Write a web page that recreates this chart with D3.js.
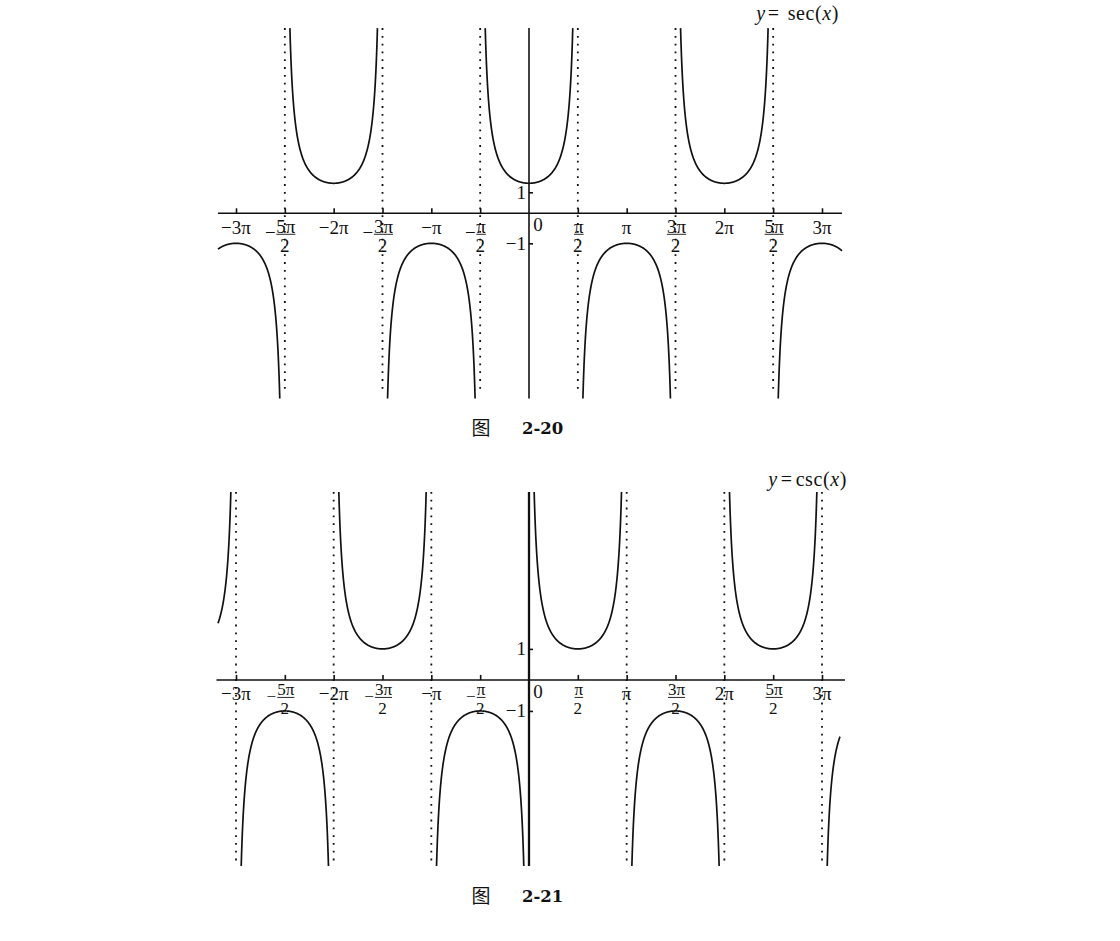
<!DOCTYPE html>
<html><head><meta charset="utf-8">
<script src="https://cdn.jsdelivr.net/npm/d3@7"></script>
<style>body{margin:0;background:#fff}svg{display:block}</style>
</head><body><svg id="c" width="1120" height="941"></svg>
<script>
const PI = Math.PI;
// x tick positions, in units of π/2
const xTickHalves = [-6,-5,-4,-3,-2,-1,1,2,3,4,5,6];
const xTickLabels = [
  {t:"−3π"}, {s:"−",n:"5π",d:"2"}, {t:"−2π"}, {s:"−",n:"3π",d:"2"}, {t:"−π"}, {s:"−",n:"π",d:"2"},
  {n:"π",d:"2"}, {t:"π"}, {n:"3π",d:"2"}, {t:"2π"}, {n:"5π",d:"2"}, {t:"3π"}];
// dotted asymptotes, in units of π/2
const secAsymptoteHalves = [-5,-3,-1,1,3,5];
const cscAsymptoteHalves = [-6,-4,-2,2,4,6];
// branch centres, in units of π
const secBranchCenters = [-3,-2,-1,0,1,2,3];
const cscBranchCenters = [-3.5,-2.5,-1.5,-0.5,0.5,1.5,2.5,3.5];
// y ticks (positions) and labels
const secYTicks = [0.7,-1];
const secYTickLabels = ["1","−1"];
const cscYTicks = [1,-1];
const cscYTickLabels = ["1","−1"];
const secTitle = ["y","=","sec(","x",")"];
const cscTitle = ["y","=","csc(","x",")"];
const captions = ["2-20","2-21"];

const svg = d3.select("#c");
const FONT = "'Liberation Serif','DejaVu Serif',serif";
const FS = 19;

const charts = [
  {fn: x=>1/Math.cos(x), centers: secBranchCenters, asym: secAsymptoteHalves, yTicks: secYTicks, yLabels: secYTickLabels,
   title: secTitle, titleGap: [2, 8], titleX: 839, titleY: 20, caption: captions[0], capY: 433.5,
   yDom: [-6.17, 6.17], yRange: [398.5, 28.1], axisPx: [218, 842], curvePx: [218, 842], dotEnd: -5.9,
   plainDy: 20.7, fracFs: 19, numDy: 19.7, barDy: 21, denDy: 39, zeroDy: 18, yAxisW: 1.6},
  {fn: x=>1/Math.sin(x), centers: cscBranchCenters, asym: cscAsymptoteHalves, yTicks: cscYTicks, yLabels: cscYTickLabels,
   title: cscTitle, titleGap: [3, 3], titleX: 847, titleY: 486, caption: captions[1], capY: 902,
   yDom: [-6.0, 6.06], yRange: [866, 492], axisPx: [216.5, 845], curvePx: [218, 840], dotEnd: -5.87,
   plainDy: 19.6, fracFs: 17, numDy: 14.8, barDy: 17.5, denDy: 33.8, zeroDy: 18, yAxisW: 2.3}
];

charts.forEach(c => {
  const x = d3.scaleLinear().domain([-3*PI, 3*PI]).range([236, 822]);
  const y = d3.scaleLinear().domain(c.yDom).range(c.yRange);
  const g = svg.append("g");
  const y0 = y(0), x0 = x(0);
  const yMax = c.yDom[1], yMin = c.yDom[0];

  // dotted asymptotes
  g.selectAll("line.asym").data(c.asym).join("line")
    .attr("x1", d => x(d*PI/2)).attr("x2", d => x(d*PI/2))
    .attr("y1", y(yMax)).attr("y2", y(c.dotEnd))
    .attr("stroke", "#111").attr("stroke-width", 1.8)
    .attr("stroke-dasharray", "1.8 6");

  // x axis line
  g.append("line").attr("x1", c.axisPx[0]).attr("x2", c.axisPx[1])
    .attr("y1", y0).attr("y2", y0).attr("stroke", "#111").attr("stroke-width", 1.6);
  // y axis line
  g.append("line").attr("x1", x0).attr("x2", x0)
    .attr("y1", y(yMax)).attr("y2", y(yMin)).attr("stroke", "#111").attr("stroke-width", c.yAxisW);

  // x ticks (upward)
  const xAxis = d3.axisTop(x).tickValues(xTickHalves.map(d => d*PI/2)).tickSize(5).tickFormat("");
  g.append("g").attr("transform", `translate(0,${y0})`).call(xAxis)
    .call(a => a.select(".domain").remove())
    .call(a => a.selectAll(".tick line").attr("stroke", "#111").attr("stroke-width", 1.6));

  // y ticks (rightward)
  const yAxis = d3.axisRight(y).tickValues(c.yTicks).tickSize(4).tickFormat("");
  g.append("g").attr("transform", `translate(${x0},0)`).call(yAxis)
    .call(a => a.select(".domain").remove())
    .call(a => a.selectAll(".tick line").attr("stroke", "#111").attr("stroke-width", 1.6));

  // x tick labels
  xTickHalves.forEach((h, i) => {
    const L = xTickLabels[i], px = x(h*PI/2);
    if (L.t) {
      g.append("text").attr("x", px).attr("y", y0 + c.plainDy).attr("text-anchor", "middle")
        .attr("font-family", FONT).attr("font-size", FS).attr("fill", "#111").text(L.t);
    } else {
      const txt = g.append("text").attr("font-family", FONT).attr("font-size", c.fracFs).attr("fill", "#111")
        .attr("text-anchor", "middle");
      const num = txt.append("tspan").attr("x", px + 1).attr("y", y0 + c.numDy).text(L.n);
      const w = num.node().getComputedTextLength();
      txt.append("tspan").attr("x", px).attr("y", y0 + c.denDy).text(L.d);
      if (L.s) {
        txt.append("tspan").attr("x", px + 1 - w/2 - 6).attr("y", y0 + c.barDy + 5).text(L.s);
      }
      g.append("line").attr("x1", px + 1 - w/2).attr("x2", px + 1 + w/2)
        .attr("y1", y0 + c.barDy).attr("y2", y0 + c.barDy).attr("stroke", "#111").attr("stroke-width", 0.9);
    }
  });
  // origin label
  g.append("text").attr("x", x0 + 9).attr("y", y0 + c.zeroDy).attr("text-anchor", "middle")
    .attr("font-family", FONT).attr("font-size", FS).attr("fill", "#111").text("0");
  // y tick labels
  c.yTicks.forEach((v, i) => {
    g.append("text").attr("x", x0 - 3).attr("y", y(v) + 6.3).attr("text-anchor", "end")
      .attr("font-family", FONT).attr("font-size", FS).attr("fill", "#111").text(c.yLabels[i]);
  });

  // curve branches
  const d0 = x.invert(c.curvePx[0]), d1 = x.invert(c.curvePx[1]);
  const line = d3.line().x(d => x(d[0])).y(d => y(d[1]));
  c.centers.forEach(k => {
    const cx = k*PI;
    const sign = Math.sign(c.fn(cx));
    const M = sign > 0 ? yMax : -yMin;
    const hw = Math.acos(1/M);
    const a = Math.max(cx - hw, d0), b = Math.min(cx + hw, d1);
    if (a >= b) return;
    const pts = d3.range(0, 241).map(i => { const t = a + (b - a)*i/240; return [t, c.fn(t)]; });
    g.append("path").attr("d", line(pts)).attr("fill", "none")
      .attr("stroke", "#111").attr("stroke-width", 1.7);
  });

  // title
  const t = g.append("text").attr("x", c.titleX).attr("y", c.titleY).attr("text-anchor", "end")
    .attr("font-family", FONT).attr("font-size", 20).attr("letter-spacing", 0.6).attr("fill", "#111");
  c.title.forEach((s, i) => {
    const sp = t.append("tspan").attr("font-style", (i === 0 || i === 3) ? "italic" : "normal").text(s);
    if (i === 1) sp.attr("dx", c.titleGap[0]);
    if (i === 2) sp.attr("dx", c.titleGap[1]);
  });

  // caption
  g.append("text").attr("x", 471.5).attr("y", c.capY + 1)
    .attr("font-family", "'Noto Sans CJK SC',sans-serif").attr("font-size", 19).attr("fill", "#111").text("图");
  g.append("text").attr("x", 522).attr("y", c.capY)
    .attr("font-family", "'DejaVu Serif',serif").attr("font-weight", "bold").attr("font-size", 16.5)
    .attr("fill", "#111").text(c.caption);
});
</script></body></html>
